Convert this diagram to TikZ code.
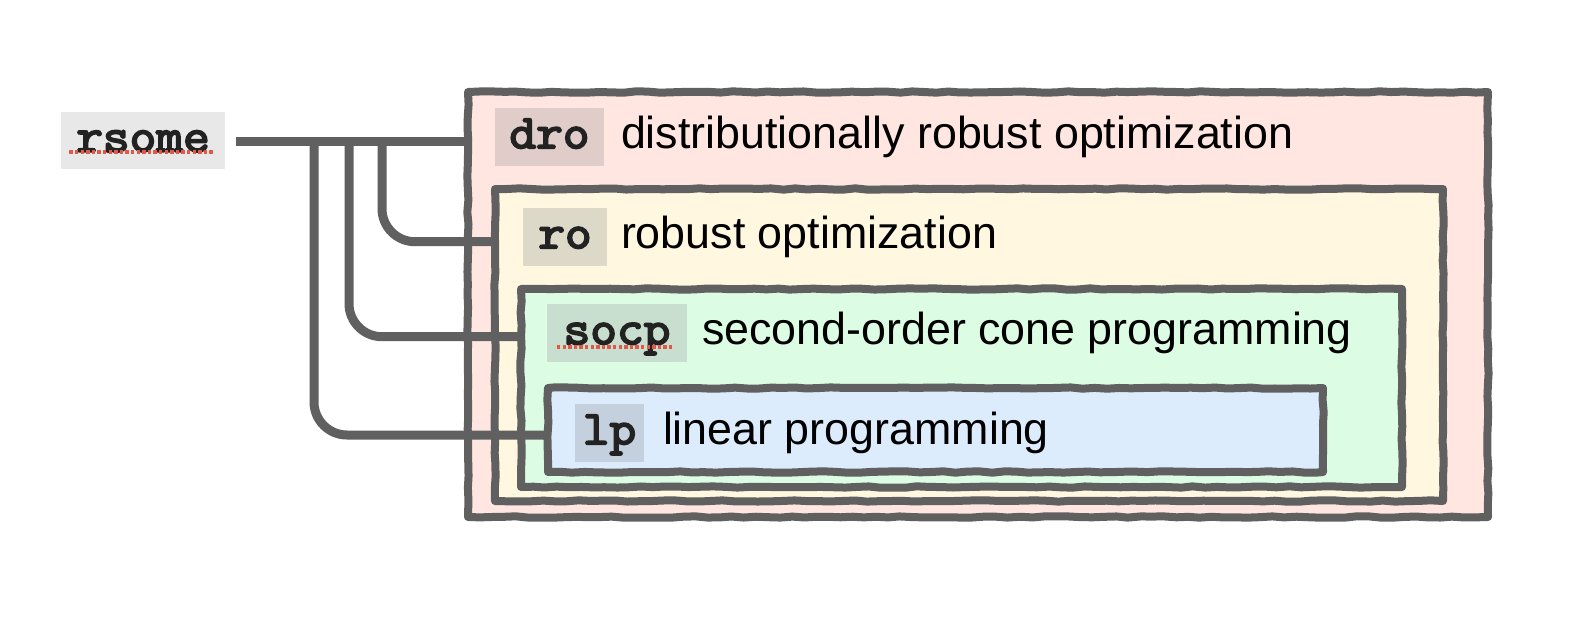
\documentclass[tikz,border=0pt]{standalone}
\usepackage{fontspec}
\setmainfont{Liberation Sans}
\newfontfamily\codefont[FakeBold=4,FakeStretch=1.08]{Latin Modern Mono}
\usetikzlibrary{decorations.pathmorphing}
\definecolor{edge}{RGB}{96,96,96}
\definecolor{monotext}{RGB}{34,34,34}
\definecolor{dropink}{RGB}{255,230,224}
\definecolor{drolab}{RGB}{224,204,200}
\definecolor{royel}{RGB}{255,247,224}
\definecolor{rolab}{RGB}{221,217,200}
\definecolor{socpgrn}{RGB}{220,252,228}
\definecolor{socplab}{RGB}{200,222,206}
\definecolor{lpblue}{RGB}{220,236,252}
\definecolor{lplab}{RGB}{196,208,222}
\definecolor{rsomelab}{RGB}{232,232,232}
\definecolor{squiggle}{RGB}{224,88,74}
\begin{document}
\begin{tikzpicture}[x=0.5pt,y=-0.5pt,
  every node/.style={inner sep=0pt, outer sep=0pt},
  box/.style={draw=edge, line width=4pt, line join=round, rectangle,
    decorate, decoration={random steps, segment length=6pt, amplitude=0.35pt}},
  lbl/.style={rectangle, minimum height=29pt,
    font=\fontsize{24}{28}\selectfont\codefont, text=monotext,
    text height=16.8pt, text depth=5.6pt},
  desc/.style={anchor=west, font=\fontsize{22.4}{26}\selectfont, text=black,
    text height=16.8pt, text depth=5.6pt},
  conn/.style={draw=edge, line width=4.5pt},
  spell/.style={draw=squiggle, line width=1.6pt, dash pattern=on 1.7pt off 1.1pt}
]
\fill[white] (0,0) rectangle (1596,622);
\useasboundingbox (0,0) rectangle (1596,622);

% nested boxes
\node[box, fill=dropink, minimum width=510pt, minimum height=212.5pt] (drobox) at (978,304.5) {};
\node[box, fill=royel, minimum width=474pt, minimum height=156pt] (robox) at (969,345) {};
\node[box, fill=socpgrn, minimum width=440.5pt, minimum height=99pt] (socpbox) at (961.5,388) {};
\node[box, fill=lpblue, minimum width=387.5pt, minimum height=42pt] (lpbox) at (935.5,430) {};

% labels
\node[lbl, fill=rsomelab, minimum width=82pt, minimum height=28.5pt] (rsome) at (143,140.5) {rsome};
\node[lbl, fill=drolab, minimum width=54.5pt] (drolbl) at (549.5,137) {dro};
\node[lbl, fill=rolab, minimum width=42pt] (rolbl) at (565,237) {ro};
\node[lbl, fill=socplab, minimum width=70pt] (socplbl) at (617,333) {socp};
\node[lbl, fill=lplab, minimum width=34.5pt] (lplbl) at (609.5,433) {lp};

% spell-check underlines
\draw[spell] ([shift={(4.2pt,8.5pt)}]rsome.south west) -- ([shift={(-6pt,8.5pt)}]rsome.south east);
\draw[spell] ([shift={(5pt,7.5pt)}]socplbl.south west) -- ([shift={(-7pt,7.5pt)}]socplbl.south east);

% descriptions
\node[desc] (drotxt) at ([xshift=8.5pt]drolbl.east) {distributionally robust optimization};
\node[desc] (rotxt) at ([xshift=7pt]rolbl.east) {robust optimization};
\node[desc] (socptxt) at ([xshift=7.5pt]socplbl.east) {second-order cone programming};
\node[desc] (lptxt) at ([xshift=9.5pt]lplbl.east) {linear programming};

% connectors
\coordinate (jlp) at (314,141.7);
\coordinate (jsocp) at (349,141.7);
\coordinate (jro) at (382,141.7);
\draw[conn] ([xshift=5.5pt,yshift=-0.6pt]rsome.east) -- ([yshift=-0.6pt]rsome.east -| drobox.west);
\draw[conn, rounded corners=16.5pt] (jro) |- ([yshift=-2.35pt]rolbl.center -| robox.west);
\draw[conn, rounded corners=16.5pt] (jsocp) |- ([yshift=-1.85pt]socplbl.center -| socpbox.west);
\draw[conn, rounded corners=16.5pt] (jlp) |- ([yshift=-1pt]lplbl.center -| lpbox.west);
\end{tikzpicture}
\end{document}
